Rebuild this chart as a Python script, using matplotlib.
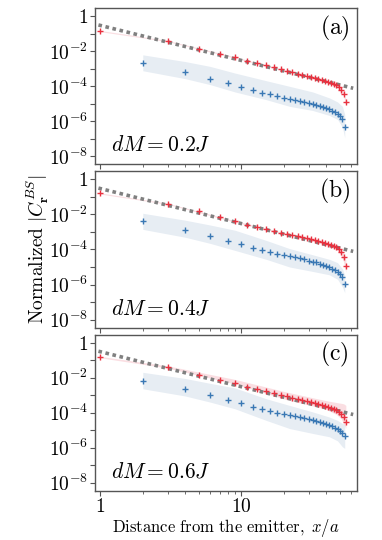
import numpy as np
import matplotlib
matplotlib.use("Agg")
import matplotlib.pyplot as plt
from matplotlib.ticker import FixedLocator, NullFormatter

plt.rcParams['mathtext.fontset'] = 'cm'
plt.rcParams['font.family'] = ['DejaVu Serif']

# sites: red points on odd distances, blue points on even distances
x_red = np.arange(1, 56, 2)
x_blue = np.arange(2, 55, 2)

red_a = [0.143, 3.9e-2, 1.38e-2, 6.9e-3, 4.5e-3, 2.9e-3, 2.1e-3, 1.66e-3, 1.29e-3, 1.0e-3,
         7.4e-4, 6.2e-4, 5.1e-4, 4.4e-4, 3.8e-4, 3.3e-4, 2.95e-4, 2.6e-4, 2.35e-4, 2.1e-4,
         1.8e-4, 1.6e-4, 1.4e-4, 1.17e-4, 9.3e-5, 6.6e-5, 3.5e-5, 1.26e-5]
red_b = [0.158, 4.1e-2, 1.48e-2, 7.4e-3, 4.0e-3, 2.57e-3, 2.0e-3, 1.51e-3, 1.17e-3, 9.3e-4,
         7.8e-4, 6.6e-4, 5.75e-4, 5.0e-4, 4.5e-4, 3.9e-4, 3.4e-4, 3.0e-4, 2.7e-4, 2.4e-4,
         2.1e-4, 1.9e-4, 1.62e-4, 1.32e-4, 1.02e-4, 7.1e-5, 3.5e-5, 1.17e-5]
red_c = [0.148, 4.0e-2, 1.45e-2, 6.9e-3, 4.7e-3, 3.0e-3, 2.24e-3, 1.66e-3, 1.26e-3, 1.05e-3,
         8.5e-4, 7.2e-4, 6.3e-4, 5.5e-4, 4.8e-4, 4.2e-4, 3.7e-4, 3.3e-4, 2.9e-4, 2.5e-4,
         2.2e-4, 1.9e-4, 1.62e-4, 1.38e-4, 1.1e-4, 8.1e-5, 5.5e-5, 2.95e-5]

blue_a = [2.04e-3, 6.5e-4, 2.7e-4, 1.48e-4, 9.1e-5, 6.0e-5, 4.4e-5, 3.5e-5, 2.75e-5, 2.3e-5,
          1.9e-5, 1.62e-5, 1.41e-5, 1.26e-5, 1.12e-5, 1.0e-5, 8.9e-6, 7.8e-6, 6.8e-6, 5.75e-6,
          4.9e-6, 4.1e-6, 3.4e-6, 2.7e-6, 2.0e-6, 1.4e-6, 5.1e-7]
blue_b = [4.4e-3, 1.32e-3, 6.0e-4, 3.2e-4, 2.0e-4, 1.29e-4, 9.1e-5, 7.4e-5, 5.9e-5, 5.0e-5,
          4.2e-5, 3.5e-5, 3.1e-5, 2.7e-5, 2.35e-5, 2.05e-5, 1.82e-5, 1.58e-5, 1.38e-5, 1.17e-5,
          9.8e-6, 8.1e-6, 6.6e-6, 5.2e-6, 4.1e-6, 2.8e-6, 1.12e-6]
blue_c = [6.6e-3, 2.24e-3, 1.02e-3, 5.6e-4, 3.4e-4, 2.2e-4, 1.62e-4, 1.32e-4, 1.0e-4, 8.5e-5,
          7.1e-5, 6.3e-5, 5.5e-5, 4.8e-5, 4.2e-5, 3.7e-5, 3.2e-5, 2.8e-5, 2.5e-5, 2.2e-5,
          1.9e-5, 1.62e-5, 1.35e-5, 1.15e-5, 9.1e-6, 6.6e-6, 4.4e-6]

# shaded ranges
xr_band = [1, 3, 9, 21, 39, 47, 51, 53, 55]
red_hi_a = [0.155, 4.2e-2, 4.9e-3, 8.1e-4, 2.3e-4, 1.32e-4, 7.9e-5, 4.7e-5, 1.9e-5]
red_lo_a = [0.132, 3.6e-2, 4.1e-3, 6.8e-4, 1.9e-4, 1.05e-4, 5.5e-5, 2.7e-5, 8.3e-6]
red_hi_b = [0.17, 4.4e-2, 4.4e-3, 8.5e-4, 2.7e-4, 1.58e-4, 1.0e-4, 6.0e-5, 2.5e-5]
red_lo_b = [0.145, 3.8e-2, 3.6e-3, 7.1e-4, 2.1e-4, 1.1e-4, 4.8e-5, 2.0e-5, 5.0e-6]
red_hi_c = [0.162, 4.7e-2, 7.9e-3, 1.48e-3, 5.0e-4, 3.8e-4, 3.4e-4, 3.2e-4, 2.6e-4]
red_lo_c = [0.135, 3.5e-2, 4.4e-3, 5.4e-4, 1.66e-4, 7.9e-5, 4.5e-5, 2.4e-5, 1.26e-5]

xb_band = [2, 4, 6, 9, 15, 22, 32, 42, 48, 52, 54]
blue_hi_a = [6.3e-3, 2.6e-3, 1.38e-3, 5.75e-4, 2.1e-4, 1.0e-4, 4.8e-5, 2.2e-5, 1.29e-5, 7.2e-6, 2.45e-6]
blue_lo_a = [7.8e-4, 2.75e-4, 1.26e-4, 4.8e-5, 1.74e-5, 7.2e-6, 4.2e-6, 2.2e-6, 1.29e-6, 4.7e-7, 1.17e-7]
blue_hi_b = [1.17e-2, 4.7e-3, 2.5e-3, 1.26e-3, 3.3e-4, 1.12e-4, 5.0e-5, 2.75e-5, 1.78e-5, 7.9e-6, 3.4e-6]
blue_lo_b = [1.41e-3, 5.0e-4, 2.24e-4, 8.9e-5, 2.75e-5, 1.0e-5, 5.6e-6, 3.6e-6, 2.0e-6, 7.2e-7, 3.4e-7]
blue_hi_c = [2.0e-2, 8.9e-3, 4.7e-3, 2.57e-3, 6.2e-4, 2.57e-4, 1.1e-4, 5.6e-5, 3.6e-5, 2.4e-5, 2.2e-5]
blue_lo_c = [2.3e-3, 8.9e-4, 4.0e-4, 1.66e-4, 3.6e-5, 1.23e-5, 6.5e-6, 4.2e-6, 2.45e-6, 1.12e-6, 9.1e-7]

# guide line ~ 1/x^2
guide_x = [0.97, 62]
guide_y = [0.32, 7.8e-5]

panel_tags = ['(a)', '(b)', '(c)']
dm_labels = ['0.2', '0.4', '0.6']
y_decades = [1, 1e-1, 1e-2, 1e-3, 1e-4, 1e-5, 1e-6, 1e-7, 1e-8]
y_labels = [r'$1$', '', r'$10^{-2}$', '', r'$10^{-4}$', '', r'$10^{-6}$', '', r'$10^{-8}$']

panels = [
    (red_a, blue_a, red_hi_a, red_lo_a, blue_hi_a, blue_lo_a),
    (red_b, blue_b, red_hi_b, red_lo_b, blue_hi_b, blue_lo_b),
    (red_c, blue_c, red_hi_c, red_lo_c, blue_hi_c, blue_lo_c),
]

red = '#e8313f'
blue = '#3a78b4'
frame = '#555555'

fig, axes = plt.subplots(3, 1, figsize=(3.82, 5.40), dpi=100, sharex=True)
fig.subplots_adjust(left=0.2487, right=0.9346, top=0.9846, bottom=0.0913, hspace=0.045)

for i, ax in enumerate(axes):
    r, b, rhi, rlo, bhi, blo = panels[i]
    ax.set_xscale('log')
    ax.set_yscale('log')
    ax.fill_between(xb_band, blo, bhi, color='#dfe7f0', alpha=0.75, lw=0, zorder=1)
    ax.fill_between(xr_band, rlo, rhi, color='#f7c9cf', alpha=0.6, lw=0, zorder=1)
    ax.plot(guide_x, guide_y, color='#808080', lw=2.6, linestyle=(0, (1, 1)), zorder=2)
    ax.plot(x_red, r, '+', color=red, ms=5, mew=1.0, zorder=3)
    ax.plot(x_blue, b, '+', color=blue, ms=5, mew=1.0, zorder=3)

    ax.set_xlim(0.917, 66)
    ax.set_ylim(3.5e-9, 2.85)
    ax.set_yticks(y_decades, y_labels)
    ax.yaxis.set_minor_locator(FixedLocator([]))
    ax.xaxis.set_major_locator(FixedLocator([1, 10]))
    ax.xaxis.set_minor_locator(FixedLocator([2, 3, 4, 5, 6, 7, 8, 9, 20, 30, 40, 50, 60]))
    ax.xaxis.set_minor_formatter(NullFormatter())
    ax.tick_params(which='major', direction='out', length=3.5, width=0.8, color=frame,
                   labelsize=14, pad=1.5)
    ax.tick_params(which='minor', direction='out', length=2, width=0.6, color=frame)
    for s in ax.spines.values():
        s.set_color(frame)
        s.set_linewidth(1.0)

    ax.text(0.915, 0.87, r'$\mathrm{' + panel_tags[i] + '}$', transform=ax.transAxes,
            ha='center', va='center', fontsize=17)
    ax.text(0.06, 0.125, r'$dM=' + dm_labels[i] + 'J$', transform=ax.transAxes,
            ha='left', va='center', fontsize=15.5)

axes[2].set_xticks([1, 10], [r'$1$', r'$10$'])
axes[2].tick_params(axis='x', labelsize=14, pad=2)

fig.text(0.592, 0.023, r'$\mathrm{Distance\ from\ the\ emitter,}\ x/a$', ha='center',
         va='center', fontsize=12)
fig.text(0.1, 0.538, r'$\mathrm{Normalized}\ |C^{BS}_{\mathbf{r}}|$', rotation=90,
         ha='center', va='center', fontsize=14)

fig.savefig('out.png', dpi=100)
